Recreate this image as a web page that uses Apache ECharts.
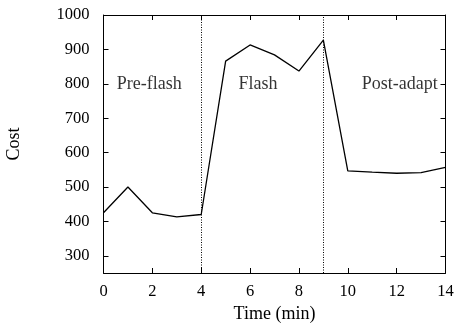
<!DOCTYPE html>
<html><head><meta charset="utf-8">
<script src="https://cdn.jsdelivr.net/npm/echarts@6/dist/echarts.min.js"></script>
<style>html,body{margin:0;padding:0;background:#fff}#c{width:457px;height:328px}</style>
</head><body><div id="c"></div>
<script>
const times = [0,1,2,3,4,5,6,7,8,9,10,11,12,13,14];
const cost = [425,500,425,413,420,866,913,884,837,927,547,543,540,542,557];
const phaseBounds = [4,9];
const phaseLabels = ['Pre-flash','Flash','Post-adapt'];
const phaseLabelX = [1.87,6.32,12.13];
const phaseLabelY = 800;
const yTicks = [300,400,500,600,700,800,900,1000];
const yGridSteps = ['250','300','350','400','450','500','550','600','650','700','750','800','850','900','950','1000'];

const FONT = 'Liberation Serif';
const FS = 16.5;
const FSW = 18;
const chart = echarts.init(document.getElementById('c'), null, {renderer:'canvas'});
const axLine = {show:true, lineStyle:{color:'#000', width:1}};
const tick = {show:true, inside:true, length:5, lineStyle:{color:'#000', width:1}};
const catTick = Object.assign({}, tick, {interval:(i, v)=>yTicks.indexOf(Number(v)) >= 0});
chart.setOption({
  animation:false,
  grid:{left:103.5, right:11.5, top:15, bottom:55, containLabel:false, outerBoundsMode:'none'},
  xAxis:[
    {type:'value', min:0, max:14, interval:2, position:'bottom',
     name:'Time (min)', nameLocation:'middle', nameGap:29,
     nameTextStyle:{fontFamily:FONT, fontSize:FSW, color:'#000'},
     axisLine:axLine, axisTick:tick,
     axisLabel:{fontFamily:FONT, fontSize:FS, color:'#000', margin:10, formatter:v=>String(v)},
     splitLine:{show:false}},
    {type:'value', min:0, max:14, interval:2, position:'top',
     axisLine:axLine, axisTick:tick,
     axisLabel:{show:false}, splitLine:{show:false}}
  ],
  yAxis:[
    {type:'value', min:250, max:1000, position:'left',
     name:'Cost', nameLocation:'middle', nameGap:80, nameRotate:90,
     nameTextStyle:{fontFamily:FONT, fontSize:FSW, color:'#000'},
     axisLine:axLine, axisTick:{show:false},
     axisLabel:{fontFamily:FONT, fontSize:FS, color:'#000', margin:14, customValues:yTicks, formatter:v=>String(v)},
     splitLine:{show:false}},
    {type:'category', data:yGridSteps, boundaryGap:false, position:'left',
     axisLine:{show:false}, axisTick:catTick,
     axisLabel:{show:false}, splitLine:{show:false}},
    {type:'category', data:yGridSteps, boundaryGap:false, position:'right',
     axisLine:axLine, axisTick:catTick,
     axisLabel:{show:false}, splitLine:{show:false}}
  ],
  series:[
    {type:'line', data:times.map((t,i)=>[t,cost[i]]), symbol:'none',
     lineStyle:{color:'#000', width:1.3},
     markLine:{silent:true, symbol:['none','none'], label:{show:false},
       lineStyle:{color:'#000', type:[1,1.5], width:1},
       data:phaseBounds.map(b=>({xAxis:b}))}},
    {type:'scatter', symbolSize:0, data:phaseLabels.map((l,i)=>[phaseLabelX[i], phaseLabelY, l]),
     label:{show:true, position:'inside', formatter:p=>p.data[2], fontFamily:FONT, fontSize:FSW, color:'#000'}}
  ]
});
</script></body></html>
